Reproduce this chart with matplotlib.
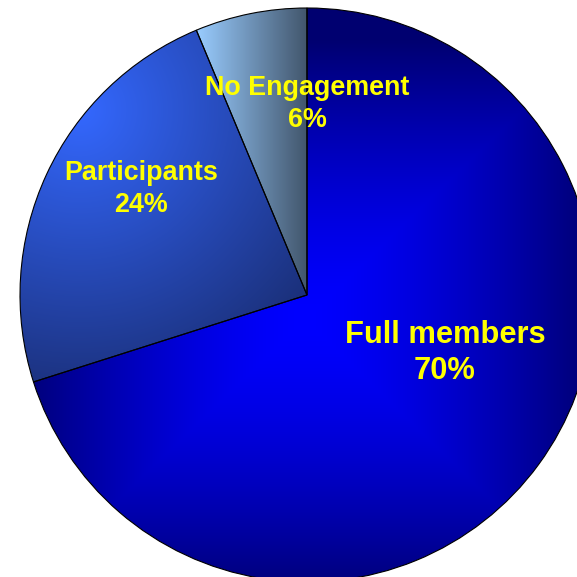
import numpy as np
import matplotlib
matplotlib.use("Agg")
import matplotlib.pyplot as plt

# Data (slice sizes, labels as printed)
labels = ["Full members", "Participants", "No Engagement"]
shares = [70.1, 23.6, 6.3]
pct_labels = ["70%", "24%", "6%"]

# Geometry in pixel units (y measured upwards)
W = H = 577
cx, cy, R = 307, 577 - 295, 287

fig = plt.figure(figsize=(5.77, 5.77), dpi=100)
ax = fig.add_axes([0, 0, 1, 1])

wedges, _ = ax.pie(shares, startangle=90, counterclock=False,
                   center=(cx, cy), radius=R, frame=True,
                   wedgeprops=dict(edgecolor="black", linewidth=0.8))

ax.set_xlim(0, W)
ax.set_ylim(0, H)
ax.set_aspect("equal")
ax.axis("off")

# pixel grid for gradient images (row 0 = top of image)
xs = np.arange(W) + 0.5
ys = np.arange(H) + 0.5
X, Y = np.meshgrid(xs, ys)  # Y downwards


def lerp(c0, c1, t):
    t = np.clip(t, 0, 1)[..., None]
    return (np.array(c0) * (1 - t) + np.array(c1) * t) / 255.0


# Full members: rectangular "from centre" gradient
t_full = np.maximum(np.abs(X - 305) / 290, np.abs(Y - 320) / 280) ** 1.5
img_full = lerp((0, 0, 255), (0, 0, 112), t_full)

# Participants: light corner top-left, darker towards lower right
t_part = np.hypot(X - 80, Y - 110) / 300
img_part = lerp((52, 104, 255), (26, 46, 118), t_part)

# No Engagement: horizontal gradient
t_none = (X - 197) / 110
img_none = lerp((153, 204, 255), (66, 86, 108), t_none)

for w, img in zip(wedges, [img_full, img_part, img_none]):
    im = ax.imshow(img, extent=(0, W, 0, H), origin="upper",
                   interpolation="bilinear", zorder=w.get_zorder() - 0.1)
    im.set_clip_path(w)
    w.set_facecolor("none")
    w.set_zorder(3)

# Labels
text_kw = dict(color="#ffff00", fontweight="bold", family="Liberation Sans",
               ha="center", va="center", multialignment="center",
               linespacing=1.3, zorder=5)
label_pos = [(445, 577 - 353, 22.2), (141, 577 - 189, 19.4), (307, 577 - 104, 19.4)]
for lab, pct, (tx, ty, fs) in zip(labels, pct_labels, label_pos):
    ax.text(tx, ty, f"{lab}\n{pct}", fontsize=fs, **text_kw)

fig.savefig("out.png", dpi=100)
